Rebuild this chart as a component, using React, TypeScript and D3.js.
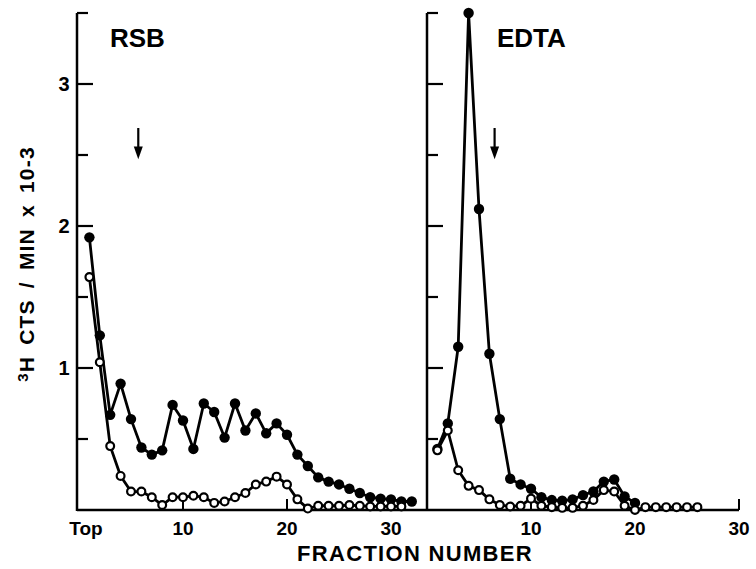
import React from 'react'
import * as d3 from 'd3'

// fraction numbers start at 1 for every series
const rsbFilled = [1.92, 1.23, 0.67, 0.89, 0.64, 0.44, 0.39, 0.42, 0.74, 0.63, 0.43, 0.75, 0.69, 0.51, 0.75, 0.56,
  0.68, 0.54, 0.61, 0.53, 0.39, 0.31, 0.23, 0.2, 0.18, 0.15, 0.12, 0.09, 0.08, 0.075, 0.06, 0.06]
const rsbOpen = [1.64, 1.04, 0.45, 0.24, 0.13, 0.13, 0.09, 0.035, 0.09, 0.09, 0.1, 0.09, 0.05, 0.06, 0.09, 0.12,
  0.18, 0.2, 0.235, 0.18, 0.075, 0.01, 0.03, 0.03, 0.03, 0.035, 0.03, 0.025, 0.025, 0.025, 0.025]
const edtaFilled = [0.43, 0.61, 1.15, 3.5, 2.12, 1.1, 0.64, 0.22, 0.18, 0.15, 0.09, 0.07, 0.065, 0.075, 0.105, 0.13,
  0.2, 0.215, 0.095, 0.05]
const edtaOpen = [0.42, 0.56, 0.28, 0.17, 0.14, 0.075, 0.035, 0.025, 0.03, 0.08, 0.03, 0.02, 0.015, 0.015, 0.03, 0.07,
  0.14, 0.13, 0.03, 0.0, 0.02, 0.02, 0.02, 0.02, 0.02, 0.02]

const panelNames = ['RSB', 'EDTA']
const arrowFractions = [5.7, 6.5]
const yTicks = [0.5, 1, 1.5, 2, 2.5, 3, 3.5]
const yTickLabels = [1, 2, 3]
const xTicksLeft = [10, 20]
const xTicksRight = [10, 20, 30]
const xTickLabels = [10, 20, 30]

const W = 756
const H = 569
const FONT = '"Liberation Sans", Arial, sans-serif'

const y = d3.scaleLinear().domain([0, 3.5]).range([510, 13])
const xLeft = d3.scaleLinear().domain([0, 30]).range([79, 391])
const xRight = d3.scaleLinear().domain([0, 30]).range([427, 739])

const panels = [
  { name: panelNames[0], x: xLeft, axisX: 77, filled: rsbFilled, open: rsbOpen, arrow: arrowFractions[0], ticks: xTicksLeft },
  { name: panelNames[1], x: xRight, axisX: 427, filled: edtaFilled, open: edtaOpen, arrow: arrowFractions[1], ticks: xTicksRight }
]

const Panel = ({ p }) => {
  const line = d3.line<number>().x((d, i) => p.x(i + 1)).y(d => y(d))
  const ax = p.axisX
  return (
    <g>
      {/* y axis with inward ticks */}
      <line x1={ax} x2={ax} y1={y(0) + 1} y2={y(3.5)} stroke="#000" strokeWidth={2.5} />
      {yTicks.map(t => (
        <line key={t} x1={ax} x2={ax + (Number.isInteger(t) ? 16 : 11)} y1={y(t)} y2={y(t)}
          stroke="#000" strokeWidth={2.2} />
      ))}
      {p.ticks.map(t => (
        <line key={'x' + t} x1={p.x(t)} x2={p.x(t)} y1={y(0)} y2={y(0) - 11} stroke="#000" strokeWidth={2} />
      ))}
      <text x={p.x(0) + (p.name === 'RSB' ? 31 : 70)} y={47} fontFamily={FONT} fontWeight="bold" fontSize={26}>
        {p.name}
      </text>
      {/* arrow marking the sedimentation marker */}
      <line x1={p.x(p.arrow)} x2={p.x(p.arrow)} y1={y(2.69)} y2={y(2.55)} stroke="#000" strokeWidth={2.2} />
      <path d={`M${p.x(p.arrow) - 4.5},${y(2.56)}L${p.x(p.arrow) + 4.5},${y(2.56)}L${p.x(p.arrow)},${y(2.47)}Z`} fill="#000" />

      <path d={line(p.filled)} fill="none" stroke="#000" strokeWidth={2.8} strokeLinejoin="round" />
      <path d={line(p.open)} fill="none" stroke="#000" strokeWidth={2.8} strokeLinejoin="round" />
      {p.filled.map((d, i) => (
        <circle key={'f' + i} cx={p.x(i + 1)} cy={y(d)} r={5.2} fill="#000" />
      ))}
      {p.open.map((d, i) => (
        <circle key={'o' + i} cx={p.x(i + 1)} cy={y(d)} r={3.9} fill="#fff" stroke="#000" strokeWidth={2.2} />
      ))}
    </g>
  )
}

export default function App() {
  return (
    <svg width={W} height={H} style={{ position: 'absolute', left: 0, top: 0, background: '#fff' }}>
      <rect width={W} height={H} fill="#fff" />
      <line x1={77} x2={739} y1={y(0)} y2={y(0)} stroke="#000" strokeWidth={2.5} />
      {panels.map(p => <Panel key={p.name} p={p} />)}

      {yTickLabels.map(t => (
        <text key={t} x={64} y={y(t) + 7} textAnchor="middle" fontFamily={FONT} fontWeight="bold" fontSize={20}>{t}</text>
      ))}
      <text x={86} y={535} textAnchor="middle" fontFamily={FONT} fontWeight="bold" fontSize={19}>Top</text>
      {xTickLabels.map(t => (
        <text key={'l' + t} x={xLeft(t)} y={535} textAnchor="middle" fontFamily={FONT} fontWeight="bold" fontSize={19}>{t}</text>
      ))}
      {xTickLabels.map(t => (
        <text key={'r' + t} x={xRight(t)} y={535} textAnchor="middle" fontFamily={FONT} fontWeight="bold" fontSize={19}>{t}</text>
      ))}
      <text x={415} y={561} textAnchor="middle" fontFamily={FONT} fontWeight="bold" fontSize={22} letterSpacing={1.3}>
        FRACTION NUMBER
      </text>
      <text transform="translate(34,264) rotate(-90)" textAnchor="middle" fontFamily={FONT} fontWeight="bold"
        fontSize={21} letterSpacing={1.2} wordSpacing={4}>
        <tspan fontSize={15} dy={-6}>3</tspan>
        <tspan dy={6}>H CTS / MIN x 10-3</tspan>
      </text>
    </svg>
  )
}
